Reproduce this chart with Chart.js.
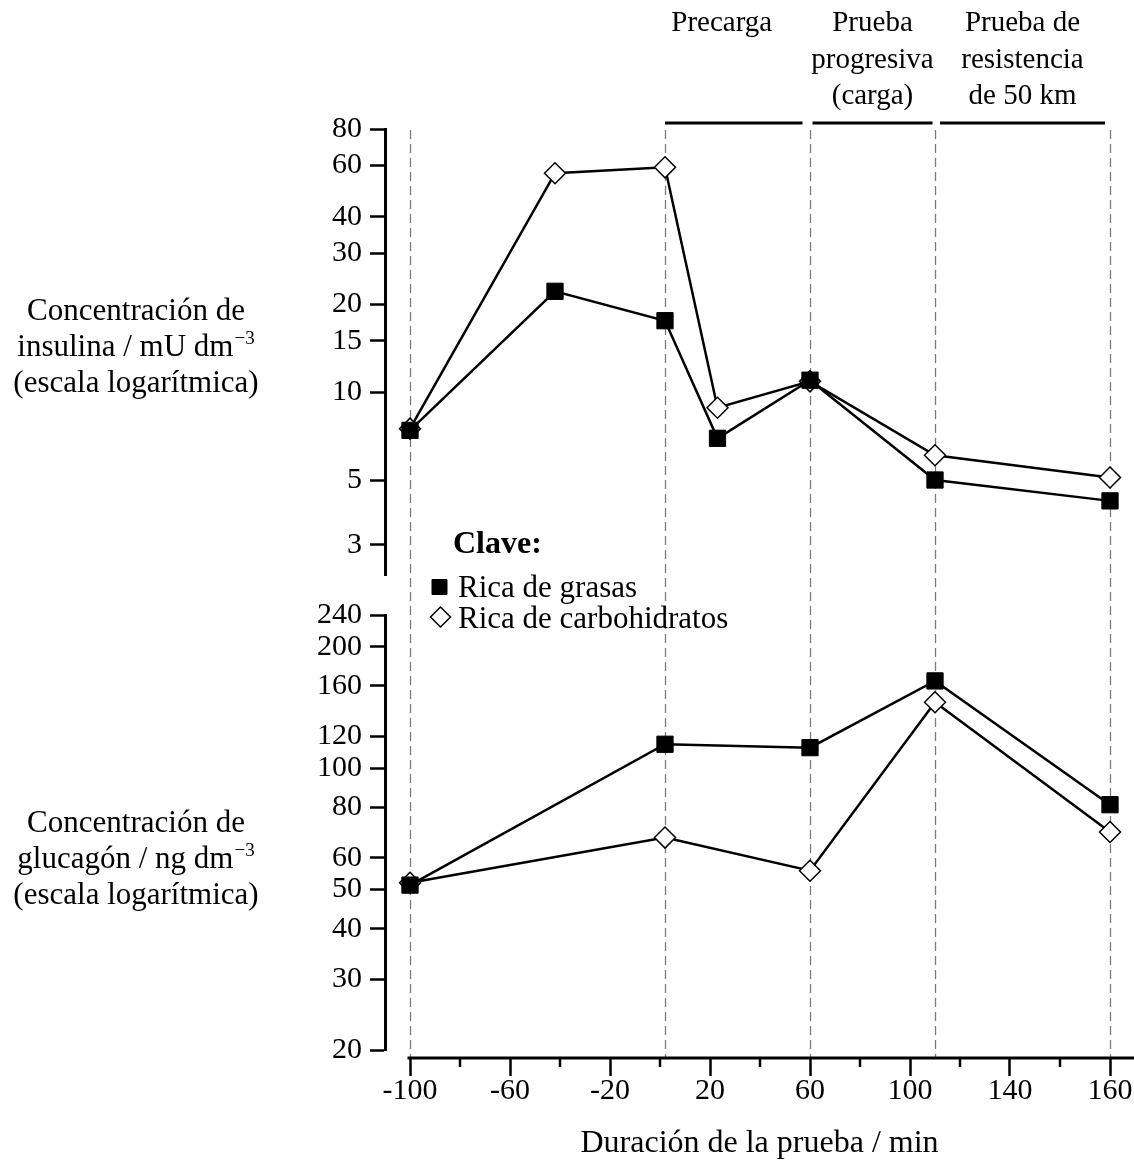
<!DOCTYPE html>
<html lang="es">
<head>
<meta charset="utf-8">
<title>Insulina y glucagón durante la prueba</title>
<script src="https://cdn.jsdelivr.net/npm/chart.js@4.4.1/dist/chart.umd.min.js"></script>
<style>
  html, body { margin: 0; padding: 0; background: #fff; }
  #wrap { width: 1134px; height: 1169px; }
</style>
</head>
<body>
<div id="wrap"><canvas id="chart" width="1134" height="1169"></canvas></div>
<script>
// Sampling times (min) and concentrations for the two diets
const insulinTimes     = [-100, -42, 2, 23, 60, 110, 160];
const insulinHighFat   = [7.4, 22.2, 17.6, 6.95, 11.0, 5.0, 4.24];
const insulinHighCarb  = [7.5, 56.4, 59.1, 8.85, 10.9, 6.08, 5.1];

const glucagonTimes    = [-100, 2, 60, 110, 160];
const glucagonHighFat  = [51.3, 114.7, 112.5, 164.7, 81.2];
const glucagonHighCarb = [52.0, 67.3, 55.7, 145.8, 69.5];

const seriesNames = ['Rica de grasas', 'Rica de carbohidratos'];

// Axis ticks
const xTickValues      = [-100, -60, -20, 20, 60, 100, 140, 160];
const xMinorTickValues = [-80, -40, 0, 40, 80, 120, 150];
const insulinTicks     = [3, 5, 10, 15, 20, 30, 40, 60, 80];
const glucagonTicks    = [20, 30, 40, 50, 60, 80, 100, 120, 160, 200, 240];

// Times marked by dashed guide lines
const markerTimes = [-100, 2, 60, 110, 160];

// Test phases
const phaseNames = [['Precarga'], ['Prueba', 'progresiva', '(carga)'], ['Prueba de', 'resistencia', 'de 50 km']];
const phaseStart = [2, 61, 112];
const phaseEnd   = [57, 109, 159];

const xTitle = 'Duración de la prueba / min';
const insulinTitle  = ['Concentración de', 'insulina / mU dm^−3', '(escala logarítmica)'];
const glucagonTitle = ['Concentración de', 'glucagón / ng dm^−3', '(escala logarítmica)'];
const legendTitle = 'Clave:';

const SERIF = '"Liberation Serif", "Times New Roman", serif';

// The time axis is drawn with the 140–160 interval stretched to twice its width
const STRETCH_FROM = 140;
const STRETCH = 2;
const toAxis = v => (v > STRETCH_FROM ? STRETCH_FROM + (v - STRETCH_FROM) * STRETCH : v);
const fromAxis = a => (a > STRETCH_FROM ? STRETCH_FROM + (a - STRETCH_FROM) / STRETCH : a);

class StretchedLinearScale extends Chart.LinearScale {
  static id = 'stretchedLinear';
  static defaults = Chart.LinearScale.defaults;
  getPixelForValue(value) {
    if (value === null || value === undefined) return NaN;
    return super.getPixelForValue(toAxis(value));
  }
  getValueForPixel(pixel) {
    return fromAxis(super.getValueForPixel(pixel));
  }
}
Chart.register(StretchedLinearScale);

const points = (xs, ys) => xs.map((x, i) => ({ x, y: ys[i] }));

const fatStyle = {
  borderColor: '#000', borderWidth: 2.5, tension: 0, fill: false,
  pointStyle: 'rect', pointRadius: 11.5, pointBackgroundColor: '#000',
  pointBorderColor: '#000', pointBorderWidth: 1
};
const carbStyle = {
  borderColor: '#000', borderWidth: 2.5, tension: 0, fill: false,
  pointStyle: 'rectRot', pointRadius: 10.5, pointBackgroundColor: '#fff',
  pointBorderColor: '#000', pointBorderWidth: 1.5
};

function drawRichLine(ctx, text, cx, baseline, size) {
  const parts = text.split('^');
  const mainFont = size + 'px ' + SERIF;
  const supFont = Math.round(size * 0.6) + 'px ' + SERIF;
  ctx.font = mainFont;
  const w0 = ctx.measureText(parts[0]).width;
  let w1 = 0;
  if (parts[1]) { ctx.font = supFont; w1 = ctx.measureText(parts[1]).width + 1; }
  const x = cx - (w0 + w1) / 2;
  ctx.textAlign = 'left';
  ctx.textBaseline = 'alphabetic';
  ctx.font = mainFont;
  ctx.fillText(parts[0], x, baseline);
  if (parts[1]) {
    ctx.font = supFont;
    ctx.fillText(parts[1], x + w0 + 1, baseline - size * 0.4);
  }
}

const decor = {
  id: 'decor',
  beforeDatasetsDraw(chart) {
    const { ctx, chartArea } = chart;
    const xs = chart.scales.x;
    ctx.save();
    ctx.strokeStyle = '#7a7a7a';
    ctx.lineWidth = 1.3;
    ctx.setLineDash([9, 5]);
    markerTimes.forEach(t => {
      const px = Math.round(xs.getPixelForValue(t)) + 0.5;
      ctx.beginPath();
      ctx.moveTo(px, chartArea.top + 1);
      ctx.lineTo(px, chartArea.bottom);
      ctx.stroke();
    });
    ctx.restore();
  },
  afterDraw(chart) {
    const { ctx, chartArea } = chart;
    const xs = chart.scales.x;
    ctx.save();
    ctx.strokeStyle = '#000';
    ctx.fillStyle = '#000';

    // time axis line and minor ticks
    const yAxis = chartArea.bottom;
    ctx.lineWidth = 3;
    ctx.beginPath();
    ctx.moveTo(xs.getPixelForValue(-101), yAxis);
    ctx.lineTo(xs.right, yAxis);
    ctx.stroke();
    ctx.lineWidth = 2.5;
    xMinorTickValues.forEach(t => {
      const px = xs.getPixelForValue(t);
      ctx.beginPath();
      ctx.moveTo(px, yAxis);
      ctx.lineTo(px, yAxis + 9);
      ctx.stroke();
    });

    // phase bars and their names
    ctx.lineWidth = 3;
    const nudge = [-12, 0, 0];
    phaseNames.forEach((lines, i) => {
      const x0 = xs.getPixelForValue(phaseStart[i]);
      const x1 = xs.getPixelForValue(phaseEnd[i]);
      ctx.beginPath();
      ctx.moveTo(x0, 123);
      ctx.lineTo(x1, 123);
      ctx.stroke();
      ctx.font = '29px ' + SERIF;
      ctx.textAlign = 'center';
      ctx.textBaseline = 'alphabetic';
      lines.forEach((ln, k) => ctx.fillText(ln, (x0 + x1) / 2 + nudge[i], 31 + k * 36.5));
    });

    // panel titles
    insulinTitle.forEach((ln, k) => drawRichLine(ctx, ln, 136, 320 + k * 36, 31));
    glucagonTitle.forEach((ln, k) => drawRichLine(ctx, ln, 136, 832 + k * 36, 31));

    // key
    ctx.textAlign = 'left';
    ctx.textBaseline = 'alphabetic';
    ctx.font = 'bold 32px ' + SERIF;
    ctx.fillText(legendTitle, 453, 553);
    const keyRows = [
      { ds: chart.data.datasets[0], cx: 439.5, cy: 587, base: 597, r: 10.6 },
      { ds: chart.data.datasets[1], cx: 440.5, cy: 617, base: 628, r: 10 }
    ];
    keyRows.forEach(row => {
      ctx.fillStyle = row.ds.pointBackgroundColor;
      ctx.strokeStyle = row.ds.pointBorderColor;
      ctx.lineWidth = row.ds.pointBorderWidth;
      Chart.helpers.drawPoint(ctx, { pointStyle: row.ds.pointStyle, radius: row.r, rotation: 0, borderWidth: row.ds.pointBorderWidth }, row.cx, row.cy);
      ctx.fillStyle = '#000';
      ctx.font = '31px ' + SERIF;
      ctx.fillText(row.ds.label, 458, row.base);
    });
    ctx.restore();
  }
};

const yTickFont = { family: SERIF, size: 30 };
const yAxisBase = {
  position: 'left',
  stack: 'panels',
  bounds: 'data',
  afterFit: s => { s.width = 385; },
  grid: { drawOnChartArea: false, drawTicks: true, tickLength: 15, tickWidth: 2.5, tickColor: '#000' },
  border: { display: true, color: '#000', width: 3 },
  ticks: { autoSkip: false, padding: 8, color: '#000', font: yTickFont, callback: v => String(v) }
};

new Chart(document.getElementById('chart'), {
  type: 'line',
  data: {
    datasets: [
      { label: seriesNames[0], data: points(insulinTimes, insulinHighFat), yAxisID: 'yIns', ...fatStyle },
      { label: seriesNames[1], data: points(insulinTimes, insulinHighCarb), yAxisID: 'yIns', ...carbStyle },
      { label: seriesNames[0], data: points(glucagonTimes, glucagonHighFat), yAxisID: 'yGlu', ...fatStyle },
      { label: seriesNames[1], data: points(glucagonTimes, glucagonHighCarb), yAxisID: 'yGlu', ...carbStyle }
    ]
  },
  options: {
    responsive: false,
    animation: false,
    events: [],
    layout: { autoPadding: false, padding: { top: 129, left: 0, right: 0, bottom: 0 } },
    plugins: { legend: { display: false }, tooltip: { enabled: false } },
    scales: {
      x: {
        type: 'stretchedLinear',
        min: -110, max: 189.6,
        bounds: 'data',
        afterBuildTicks: s => { s.ticks = xTickValues.map(v => ({ value: v })); },
        afterFit: s => { s.height = 111; s.paddingLeft = 0; s.paddingRight = 0; },
        grid: { display: true, drawOnChartArea: false, drawTicks: true, tickLength: 18, tickWidth: 2.5, tickColor: '#000' },
        border: { display: false },
        ticks: { autoSkip: false, maxRotation: 0, padding: -3, color: '#000', font: { family: SERIF, size: 30 }, callback: v => String(v) },
        title: { display: true, text: xTitle, color: '#000', font: { family: SERIF, size: 32, lineHeight: 1.2 }, padding: { top: 0, bottom: 6 } }
      },
      yIns: {
        ...yAxisBase, type: 'logarithmic', stackWeight: 446, weight: 4,
        min: 2.361, max: 80,
        afterBuildTicks: s => { s.ticks = insulinTicks.map(v => ({ value: v })); }
      },
      yGap: { type: 'linear', position: 'left', stack: 'panels', stackWeight: 40, weight: 3, display: false },
      yGlu: {
        ...yAxisBase, type: 'logarithmic', stackWeight: 435, weight: 2,
        min: 20, max: 240,
        afterBuildTicks: s => { s.ticks = glucagonTicks.map(v => ({ value: v })); }
      },
      yGap2: { type: 'linear', position: 'left', stack: 'panels', stackWeight: 8, weight: 1, display: false }
    }
  },
  plugins: [decor]
});
</script>
</body>
</html>
